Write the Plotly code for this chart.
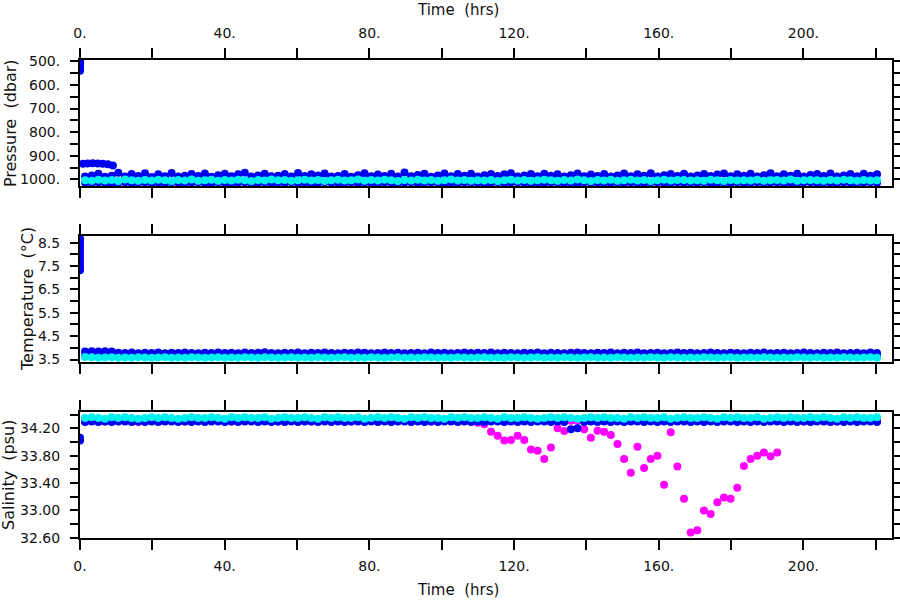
import plotly.graph_objects as go

# ---------------- data ----------------
time_hrs = [
    1.40, 3.24, 5.08, 6.92, 8.76, 10.60, 12.44, 14.28, 16.12, 17.96,
    19.80, 21.64, 23.48, 25.32, 27.16, 29.00, 30.84, 32.68, 34.52, 36.36,
    38.20, 40.04, 41.88, 43.72, 45.56, 47.40, 49.24, 51.08, 52.92, 54.76,
    56.60, 58.44, 60.28, 62.12, 63.96, 65.80, 67.64, 69.48, 71.32, 73.16,
    75.00, 76.84, 78.68, 80.52, 82.36, 84.20, 86.04, 87.88, 89.72, 91.56,
    93.40, 95.24, 97.08, 98.92, 100.76, 102.60, 104.44, 106.28, 108.12, 109.96,
    111.80, 113.64, 115.48, 117.32, 119.16, 121.00, 122.84, 124.68, 126.52, 128.36,
    130.20, 132.04, 133.88, 135.72, 137.56, 139.40, 141.24, 143.08, 144.92, 146.76,
    148.60, 150.44, 152.28, 154.12, 155.96, 157.80, 159.64, 161.48, 163.32, 165.16,
    167.00, 168.84, 170.68, 172.52, 174.36, 176.20, 178.04, 179.88, 181.72, 183.56,
    185.40, 187.24, 189.08, 190.92, 192.76, 194.60, 196.44, 198.28, 200.12, 201.96,
    203.80, 205.64, 207.48, 209.32, 211.16, 213.00, 214.84, 216.68, 218.52, 220.36,
]

pres_blue = [
    988, 984, 976, 989, 985, 972, 988, 977, 986, 974,
    990, 979, 987, 973, 988, 985, 978, 986, 975, 989,
    983, 976, 987, 979, 972, 988, 984, 976, 987, 985,
    977, 988, 973, 986, 979, 984, 975, 988, 986, 977,
    989, 983, 974, 987, 980, 986, 976, 988, 971, 987,
    982, 976, 989, 984, 975, 987, 978, 985, 976, 988,
    983, 977, 986, 979, 974, 988, 984, 977, 987, 976,
    985, 979, 988, 983, 975, 987, 980, 986, 977, 988,
    984, 975, 987, 979, 985, 974, 988, 983, 978, 986,
    976, 988, 984, 977, 986, 980, 975, 987, 979, 985,
    976, 988, 983, 974, 987, 979, 985, 976, 988, 982,
    977, 986, 975, 988, 984, 978, 987, 976, 985, 979,
]
pres_blue_deep = [
    1014, 1016, 1013, 1015, 1017, 1014, 1012, 1016, 1015, 1013,
    1016, 1014, 1017, 1013, 1015, 1016, 1014, 1012, 1015, 1017,
    1013, 1015, 1016, 1014, 1012, 1016, 1015, 1013, 1017, 1014,
    1015, 1013, 1016, 1014, 1017, 1015, 1012, 1014, 1016, 1015,
    1013, 1016, 1014, 1015, 1017, 1013, 1015, 1016, 1014, 1012,
    1016, 1014, 1013, 1015, 1017, 1014, 1016, 1013, 1015, 1014,
    1017, 1015, 1013, 1016, 1014, 1012, 1015, 1017, 1014, 1016,
    1013, 1015, 1016, 1014, 1017, 1013, 1015, 1014, 1016, 1015,
    1014, 1016, 1013, 1015, 1017, 1014, 1012, 1016, 1015, 1013,
    1016, 1014, 1015, 1013, 1017, 1015, 1014, 1016, 1013, 1015,
    1015, 1013, 1016, 1014, 1012, 1016, 1015, 1017, 1014, 1013,
    1016, 1014, 1015, 1017, 1013, 1015, 1016, 1014, 1013, 1015,
]
pres_cyan = [
    1004, 1006, 1002, 1005, 1003, 1007, 1001, 1004, 1006, 1003,
    1005, 1002, 1004, 1007, 1003, 1005, 1001, 1006, 1004, 1002,
    1006, 1003, 1005, 1002, 1004, 1007, 1003, 1005, 1001, 1004,
    1003, 1006, 1004, 1002, 1005, 1003, 1007, 1004, 1002, 1005,
    1004, 1001, 1006, 1003, 1005, 1002, 1004, 1007, 1003, 1005,
    1002, 1005, 1003, 1006, 1004, 1001, 1005, 1003, 1006, 1004,
    1005, 1003, 1007, 1004, 1002, 1005, 1003, 1006, 1004, 1002,
    1004, 1006, 1003, 1005, 1001, 1004, 1007, 1003, 1005, 1002,
    1006, 1004, 1002, 1005, 1003, 1007, 1004, 1002, 1005, 1003,
    1003, 1005, 1004, 1006, 1002, 1004, 1007, 1003, 1005, 1004,
    1005, 1002, 1006, 1004, 1003, 1005, 1001, 1006, 1004, 1003,
    1004, 1006, 1003, 1005, 1002, 1004, 1006, 1003, 1005, 1004,
]

temp_blue = [
    3.84, 3.85, 3.84, 3.85, 3.84, 3.79, 3.78, 3.80, 3.77, 3.79,
    3.78, 3.80, 3.77, 3.79, 3.78, 3.80, 3.78, 3.77, 3.79, 3.78,
    3.80, 3.78, 3.79, 3.77, 3.80, 3.78, 3.79, 3.81, 3.78, 3.77,
    3.79, 3.78, 3.80, 3.77, 3.79, 3.78, 3.80, 3.78, 3.77, 3.79,
    3.78, 3.80, 3.79, 3.77, 3.78, 3.80, 3.78, 3.79, 3.77, 3.78,
    3.79, 3.77, 3.80, 3.78, 3.79, 3.77, 3.78, 3.80, 3.78, 3.79,
    3.78, 3.80, 3.77, 3.79, 3.78, 3.77, 3.79, 3.78, 3.80, 3.77,
    3.79, 3.78, 3.77, 3.79, 3.80, 3.78, 3.77, 3.79, 3.78, 3.80,
    3.77, 3.79, 3.78, 3.80, 3.77, 3.78, 3.79, 3.77, 3.78, 3.80,
    3.78, 3.79, 3.77, 3.78, 3.80, 3.78, 3.77, 3.79, 3.78, 3.77,
    3.79, 3.78, 3.80, 3.77, 3.78, 3.79, 3.77, 3.78, 3.80, 3.78,
    3.77, 3.79, 3.78, 3.80, 3.77, 3.78, 3.79, 3.77, 3.80, 3.78,
]
temp_blue_deep = [
    3.66, 3.65, 3.66, 3.64, 3.65, 3.64, 3.63, 3.65, 3.64, 3.63,
    3.65, 3.64, 3.63, 3.65, 3.64, 3.63, 3.64, 3.65, 3.63, 3.64,
    3.64, 3.63, 3.65, 3.64, 3.63, 3.64, 3.65, 3.63, 3.64, 3.65,
    3.63, 3.64, 3.65, 3.63, 3.64, 3.63, 3.65, 3.64, 3.63, 3.64,
    3.65, 3.63, 3.64, 3.65, 3.63, 3.64, 3.63, 3.65, 3.64, 3.63,
    3.64, 3.65, 3.63, 3.64, 3.63, 3.65, 3.64, 3.63, 3.64, 3.65,
    3.63, 3.64, 3.65, 3.63, 3.64, 3.65, 3.63, 3.64, 3.63, 3.65,
    3.64, 3.63, 3.64, 3.65, 3.63, 3.64, 3.65, 3.63, 3.64, 3.63,
    3.65, 3.64, 3.63, 3.64, 3.65, 3.63, 3.64, 3.63, 3.65, 3.64,
    3.63, 3.64, 3.65, 3.63, 3.64, 3.63, 3.65, 3.64, 3.63, 3.64,
    3.65, 3.63, 3.64, 3.65, 3.63, 3.64, 3.63, 3.65, 3.64, 3.63,
    3.64, 3.65, 3.63, 3.64, 3.63, 3.65, 3.64, 3.63, 3.64, 3.65,
]
temp_cyan = [
    3.61, 3.60, 3.58, 3.59, 3.60, 3.58, 3.59, 3.58, 3.60, 3.59,
    3.58, 3.59, 3.60, 3.58, 3.59, 3.58, 3.60, 3.59, 3.58, 3.59,
    3.60, 3.58, 3.59, 3.58, 3.60, 3.59, 3.58, 3.60, 3.59, 3.58,
    3.59, 3.60, 3.58, 3.59, 3.58, 3.60, 3.59, 3.58, 3.59, 3.60,
    3.58, 3.59, 3.58, 3.60, 3.59, 3.58, 3.59, 3.60, 3.58, 3.59,
    3.58, 3.60, 3.59, 3.58, 3.59, 3.58, 3.60, 3.59, 3.58, 3.59,
    3.60, 3.58, 3.59, 3.58, 3.60, 3.59, 3.58, 3.59, 3.60, 3.58,
    3.59, 3.58, 3.60, 3.59, 3.58, 3.59, 3.60, 3.58, 3.59, 3.58,
    3.60, 3.59, 3.58, 3.59, 3.58, 3.60, 3.59, 3.58, 3.60, 3.59,
    3.58, 3.59, 3.58, 3.60, 3.59, 3.58, 3.59, 3.60, 3.58, 3.59,
    3.59, 3.58, 3.60, 3.59, 3.58, 3.59, 3.58, 3.60, 3.59, 3.58,
    3.60, 3.58, 3.59, 3.58, 3.60, 3.59, 3.58, 3.59, 3.60, 3.58,
]

sal_blue = [
    34.29, 34.30, 34.29, 34.30, 34.29, 34.30, 34.30, 34.29, 34.30, 34.29,
    34.30, 34.29, 34.30, 34.30, 34.29, 34.30, 34.29, 34.30, 34.29, 34.30,
    34.30, 34.29, 34.30, 34.29, 34.30, 34.30, 34.29, 34.30, 34.29, 34.30,
    34.29, 34.30, 34.29, 34.30, 34.30, 34.29, 34.30, 34.29, 34.30, 34.29,
    34.30, 34.30, 34.29, 34.30, 34.29, 34.30, 34.29, 34.30, 34.30, 34.29,
    34.30, 34.29, 34.30, 34.29, 34.30, 34.30, 34.29, 34.30, 34.29, 34.30,
    34.29, 34.30, 34.30, 34.29, 34.30, 34.29, 34.30, 34.29, 34.30, 34.30,
    34.29, 34.30, 34.29, 34.185, 34.20, 34.29, 34.30, 34.29, 34.30, 34.29,
    34.30, 34.29, 34.30, 34.30, 34.29, 34.30, 34.29, 34.30, 34.29, 34.30,
    34.30, 34.29, 34.30, 34.29, 34.30, 34.29, 34.30, 34.30, 34.29, 34.30,
    34.29, 34.30, 34.29, 34.30, 34.30, 34.29, 34.30, 34.29, 34.30, 34.29,
    34.30, 34.30, 34.29, 34.30, 34.29, 34.30, 34.29, 34.30, 34.30, 34.29,
]
sal_magenta = [
    34.31, 34.32, 34.31, 34.30, 34.32, 34.31, 34.32, 34.31, 34.29, 34.32,
    34.31, 34.32, 34.31, 34.31, 34.32, 34.30, 34.31, 34.32, 34.31, 34.31,
    34.32, 34.31, 34.30, 34.31, 34.32, 34.31, 34.31, 34.32, 34.31, 34.30,
    34.31, 34.32, 34.31, 34.31, 34.30, 34.32, 34.31, 34.31, 34.32, 34.31,
    34.30, 34.31, 34.32, 34.31, 34.31, 34.32, 34.30, 34.31, 34.31, 34.32,
    34.31, 34.31, 34.30, 34.32, 34.31, 34.31, 34.32, 34.31, 34.32, 34.28,
    34.26, 34.15, 34.09, 34.02, 34.03, 34.09, 34.03, 33.89, 33.87, 33.75,
    33.92, 34.20, 34.16, 34.31, 34.31, 34.185, 34.06, 34.165, 34.15, 34.10,
    33.97, 33.75, 33.55, 33.93, 33.62, 33.75, 33.80, 33.375, 34.14, 33.64,
    33.17, 32.68, 32.71, 33.00, 32.95, 33.12, 33.19, 33.17, 33.33, 33.65,
    33.75, 33.80, 33.845, 33.79, 33.845, 34.31, 34.32, 34.31, 34.30, 34.31,
    34.32, 34.31, 34.31, 34.30, 34.32, 34.31, 34.31, 34.32, 34.31, 34.31,
]
sal_cyan = [
    34.35, 34.36, 34.35, 34.34, 34.36, 34.35, 34.36, 34.35, 34.34, 34.35,
    34.36, 34.35, 34.36, 34.35, 34.34, 34.35, 34.36, 34.35, 34.35, 34.36,
    34.35, 34.34, 34.36, 34.35, 34.36, 34.35, 34.35, 34.36, 34.34, 34.35,
    34.36, 34.35, 34.35, 34.36, 34.35, 34.34, 34.36, 34.35, 34.36, 34.35,
    34.35, 34.36, 34.34, 34.35, 34.36, 34.35, 34.36, 34.35, 34.34, 34.36,
    34.35, 34.36, 34.35, 34.35, 34.34, 34.36, 34.35, 34.36, 34.35, 34.35,
    34.36, 34.35, 34.34, 34.36, 34.35, 34.35, 34.36, 34.35, 34.34, 34.35,
    34.36, 34.35, 34.36, 34.35, 34.34, 34.35, 34.36, 34.35, 34.36, 34.35,
    34.35, 34.34, 34.36, 34.35, 34.36, 34.35, 34.35, 34.36, 34.34, 34.35,
    34.36, 34.35, 34.35, 34.36, 34.35, 34.34, 34.36, 34.35, 34.36, 34.35,
    34.35, 34.36, 34.34, 34.35, 34.36, 34.35, 34.36, 34.35, 34.35, 34.36,
    34.35, 34.36, 34.35, 34.34, 34.36, 34.35, 34.36, 34.35, 34.35, 34.36,
]

# profile start (descent) samples at t = 0
start_time = [0, 0, 0, 0, 0, 0, 0, 0, 0, 0]
start_pres = [496, 501, 506, 511, 516, 521, 526, 531, 536, 540]
start_temp = [8.68, 8.52, 8.36, 8.20, 8.04, 7.88, 7.72, 7.56, 7.42, 7.32]
start_sal_time = [0, 0]
start_sal = [34.06, 34.02]

# early parking samples at ~930 dbar
early_time = [0.8, 2.1, 3.5, 4.9, 6.3, 7.7, 9.1]
early_pres = [934, 933, 932, 933, 934, 936, 941]

x_ticks = [0, 20, 40, 60, 80, 100, 120, 140, 160, 180, 200, 220]
x_labels = ["0.", "", "40.", "", "80.", "", "120.", "", "160.", "", "200.", ""]
p_ticks = [500, 550, 600, 650, 700, 750, 800, 850, 900, 950, 1000]
p_labels = ["500.", "", "600.", "", "700.", "", "800.", "", "900.", "", "1000."]
t_ticks = [3.5, 4.0, 4.5, 5.0, 5.5, 6.0, 6.5, 7.0, 7.5, 8.0, 8.5]
t_labels = ["3.5", "", "4.5", "", "5.5", "", "6.5", "", "7.5", "", "8.5"]
s_ticks = [32.6, 32.8, 33.0, 33.2, 33.4, 33.6, 33.8, 34.0, 34.2, 34.4]
s_labels = ["32.60", "", "33.00", "", "33.40", "", "33.80", "", "34.20", ""]

BLUE = "#0000F0"
CYAN = "#00F0F0"
MAGENTA = "#FF00FF"
MS = 8

fig = go.Figure()


def dots(x, y, color, xa, ya):
    fig.add_trace(go.Scatter(x=x, y=y, mode="markers", xaxis=xa, yaxis=ya,
                             marker=dict(color=color, size=MS, line=dict(width=0)),
                             showlegend=False, hoverinfo="skip"))


# pressure
dots(time_hrs, pres_blue_deep, BLUE, "x", "y")
dots(time_hrs, pres_blue, BLUE, "x", "y")
dots(start_time, start_pres, BLUE, "x", "y")
dots(early_time, early_pres, BLUE, "x", "y")
dots(time_hrs, pres_cyan, CYAN, "x", "y")
# temperature
dots(time_hrs, temp_blue_deep, BLUE, "x2", "y2")
dots(time_hrs, temp_blue, BLUE, "x2", "y2")
dots(start_time, start_temp, BLUE, "x2", "y2")
dots(time_hrs, temp_cyan, CYAN, "x2", "y2")
# salinity
dots(time_hrs, sal_magenta, MAGENTA, "x3", "y3")
dots(time_hrs, sal_blue, BLUE, "x3", "y3")
dots(start_sal_time, start_sal, BLUE, "x3", "y3")
dots(time_hrs, sal_cyan, CYAN, "x3", "y3")

FONT = "DejaVu Sans"
TXT = "#111111"
axis_common = dict(showline=True, linecolor="black", linewidth=2, mirror="ticks",
                   ticks="outside", tickcolor="black", tickwidth=2,
                   showgrid=False, zeroline=False, automargin=False,
                   tickfont=dict(family=FONT, size=14, color=TXT))

xr = [0, 224.5]
xcommon = dict(axis_common, range=xr, tickmode="array", tickvals=x_ticks,
               ticktext=x_labels, ticklen=10)

fig.update_layout(
    width=900, height=600,
    margin=dict(l=80, r=8, t=60, b=62, autoexpand=False),
    paper_bgcolor="white", plot_bgcolor="white",
    xaxis=dict(xcommon, domain=[0, 1], anchor="y", side="top", ticklabelstandoff=4),
    xaxis2=dict(xcommon, domain=[0, 1], anchor="y2", showticklabels=False),
    xaxis3=dict(xcommon, domain=[0, 1], anchor="y3", side="bottom", ticklabelstandoff=4),
    yaxis=dict(axis_common, domain=[0.7354, 1], range=[1030.4, 494.5], tickmode="array",
               tickvals=p_ticks, ticktext=p_labels, ticklen=8, ticklabelstandoff=7),
    yaxis2=dict(axis_common, domain=[0.3682, 0.6324], range=[3.393, 8.80], tickmode="array",
                tickvals=t_ticks, ticktext=t_labels, ticklen=8, ticklabelstandoff=7),
    yaxis3=dict(axis_common, domain=[0, 0.263], range=[32.598, 34.433], tickmode="array",
                tickvals=s_ticks, ticktext=s_labels, ticklen=8, ticklabelstandoff=7),
)

x_title_font = dict(family=FONT, size=15, color=TXT)
y_title_font = dict(family=FONT, size=16, color=TXT)
annots = [
    dict(text="Time\u00a0 (hrs)", x=0.4655, y=1.1046, xref="paper", yref="paper",
         showarrow=False, xanchor="center", yanchor="middle", font=x_title_font),
    dict(text="Time\u00a0 (hrs)", x=0.4655, y=-0.1088, xref="paper", yref="paper",
         showarrow=False, xanchor="center", yanchor="middle", font=x_title_font),
    dict(text="Pressure\u00a0 (dbar)", x=-0.0862, y=0.868, xref="paper", yref="paper",
         showarrow=False, xanchor="center", yanchor="middle", textangle=-90, font=y_title_font),
    dict(text="Temperature\u00a0 (°C)", x=-0.0653, y=0.5, xref="paper", yref="paper",
         showarrow=False, xanchor="center", yanchor="middle", textangle=-90, font=y_title_font),
    dict(text="Salinity\u00a0 (psu)", x=-0.0874, y=0.1318, xref="paper", yref="paper",
         showarrow=False, xanchor="center", yanchor="middle", textangle=-90, font=y_title_font),
]
fig.update_layout(annotations=annots)

fig.write_html(
    "out.html",
    config={"displayModeBar": False},
    post_script="document.body.style.margin='0';document.body.style.padding='0';"
                "document.body.style.overflow='hidden';",
)
